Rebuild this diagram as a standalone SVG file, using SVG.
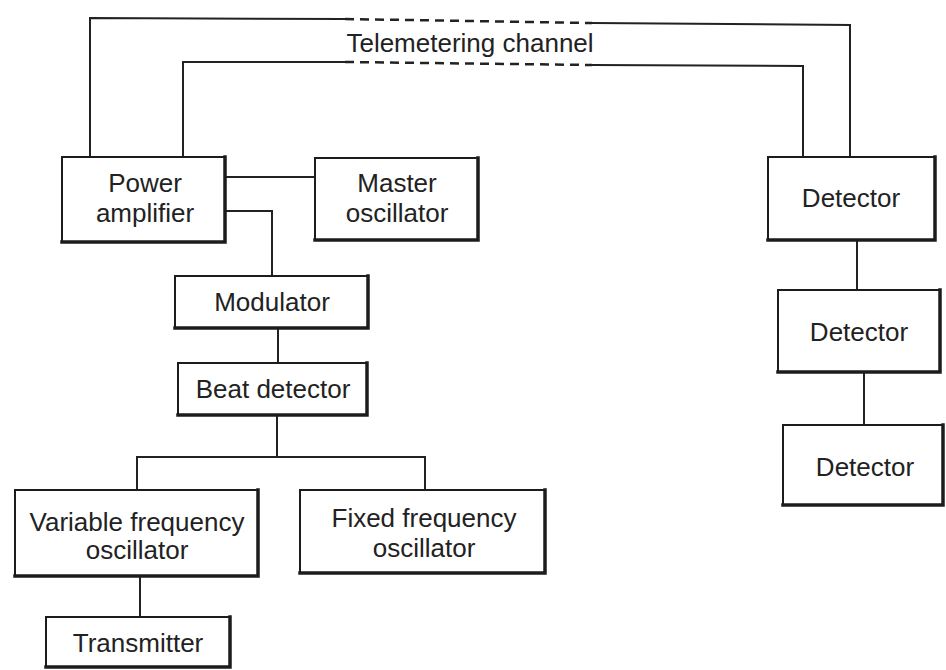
<svg xmlns="http://www.w3.org/2000/svg" width="946" height="670" viewBox="0 0 946 670">
<style>
.box{fill:#fff;stroke:#1c1c1c;stroke-width:2}
.sh{fill:none;stroke:#1c1c1c;stroke-width:3.5;stroke-linecap:square}
.ln{fill:none;stroke:#222;stroke-width:2}
.dash{fill:none;stroke:#222;stroke-width:2.5;stroke-dasharray:9 6}
text{font-family:"Liberation Sans",Arial,sans-serif;font-size:26px;fill:#222;text-anchor:middle}
</style>
<rect width="946" height="670" fill="#fff"/>
<g id="connectors">
<polyline class="ln" points="90,157 90,18 345,19"/>
<line class="dash" x1="345" y1="19" x2="592" y2="23"/>
<polyline class="ln" points="592,23 850,25 850,157"/>
<polyline class="ln" points="183,157 183,62 345,62"/>
<line class="dash" x1="345" y1="62" x2="592" y2="65"/>
<polyline class="ln" points="592,65 803,66 803,157"/>
<line class="ln" x1="225" y1="177" x2="315" y2="177"/>
<polyline class="ln" points="225,211 272,211 272,276"/>
<line class="ln" x1="278" y1="328" x2="278" y2="363"/>
<line class="ln" x1="277" y1="415" x2="277" y2="457"/>
<polyline class="ln" points="137,490 137,457 425,457 425,490"/>
<line class="ln" x1="140" y1="576" x2="140" y2="617"/>
<line class="ln" x1="857" y1="240" x2="857" y2="290"/>
<line class="ln" x1="864" y1="372" x2="864" y2="425"/>
</g>
<text x="470" y="52">Telemetering channel</text>
<g id="power-amplifier">
<rect class="box" x="62" y="157" width="163" height="85"/>
<polyline class="sh" points="62,242 225,242 225,157"/>
<text x="145" y="192">Power</text>
<text x="145" y="222">amplifier</text>
</g>
<g id="master-oscillator">
<rect class="box" x="315" y="158" width="163" height="82"/>
<polyline class="sh" points="315,240 478,240 478,158"/>
<text x="397" y="192">Master</text>
<text x="397" y="222">oscillator</text>
</g>
<g id="modulator">
<rect class="box" x="175" y="276" width="193" height="52"/>
<polyline class="sh" points="175,328 368,328 368,276"/>
<text x="272" y="311">Modulator</text>
</g>
<g id="beat-detector">
<rect class="box" x="178" y="363" width="189" height="52"/>
<polyline class="sh" points="178,415 367,415 367,363"/>
<text x="273" y="398">Beat detector</text>
</g>
<g id="variable-frequency-oscillator">
<rect class="box" x="15" y="490" width="243" height="86"/>
<polyline class="sh" points="15,576 258,576 258,490"/>
<text x="137" y="531">Variable frequency</text>
<text x="137" y="559">oscillator</text>
</g>
<g id="fixed-frequency-oscillator">
<rect class="box" x="300" y="490" width="245" height="83"/>
<polyline class="sh" points="300,573 545,573 545,490"/>
<text x="424" y="527">Fixed frequency</text>
<text x="424" y="557">oscillator</text>
</g>
<g id="transmitter">
<rect class="box" x="46" y="617" width="184" height="50"/>
<polyline class="sh" points="46,667 230,667 230,617"/>
<text x="138" y="652">Transmitter</text>
</g>
<g id="detector-1">
<rect class="box" x="768" y="157" width="167" height="83"/>
<polyline class="sh" points="768,240 935,240 935,157"/>
<text x="851" y="207">Detector</text>
</g>
<g id="detector-2">
<rect class="box" x="778" y="290" width="162" height="82"/>
<polyline class="sh" points="778,372 940,372 940,290"/>
<text x="859" y="341">Detector</text>
</g>
<g id="detector-3">
<rect class="box" x="783" y="425" width="160" height="80"/>
<polyline class="sh" points="783,505 943,505 943,425"/>
<text x="865" y="476">Detector</text>
</g>
</svg>
